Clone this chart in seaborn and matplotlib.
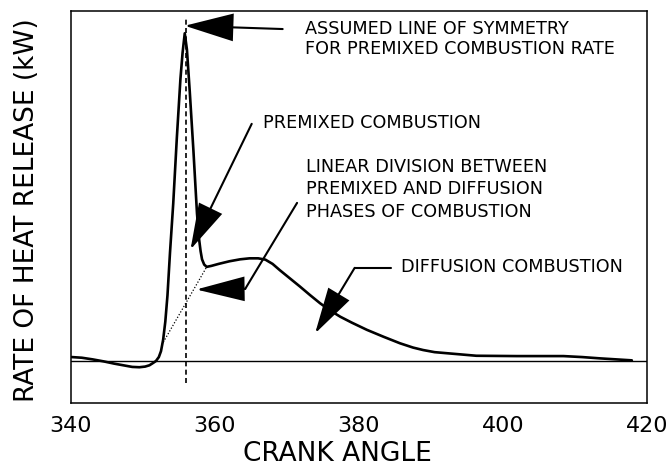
import matplotlib
matplotlib.use("Agg")
import matplotlib.pyplot as plt
from matplotlib.patches import FancyArrowPatch
import seaborn as sns
import pandas as pd

# Rate of heat release trace (arbitrary kW scale, no y ticks shown)
crank_angle = [340.1, 341.5, 343.0, 344.5, 346.0, 347.5, 348.5, 349.5, 350.3,
               350.9, 351.4, 351.8, 352.2, 352.5, 352.8, 353.1, 353.4, 353.75,
               354.2, 354.7, 355.2, 355.5, 355.8, 356.1, 356.5, 357.0, 357.5,
               357.8, 358.0, 358.2, 358.5, 358.85, 359.5, 360.5, 362.0, 363.5,
               364.8, 366.0, 367.0, 368.0, 369.0, 370.4, 371.8, 373.2, 374.6,
               376.0, 377.4, 379.0, 381.1, 383.4, 385.7, 387.5, 388.9, 390.5,
               392.6, 396.3, 401.9, 408.4, 411.0, 413.5, 417.9]
heat_release = [1.2, 1.0, 0.5, -0.1, -0.8, -1.4, -1.8, -1.9, -1.7,
                -1.3, -0.6, 0.0, 1.2, 3.0, 6.5, 12.0, 20.0, 33.0,
                48.0, 68.0, 86.0, 94.0, 99.9, 95.0, 82.0, 64.3, 45.0,
                37.0, 33.5, 31.0, 29.4, 28.7, 29.0, 29.6, 30.4, 31.0,
                31.3, 31.3, 30.9, 29.6, 27.7, 25.2, 22.7, 20.1, 17.6,
                15.4, 13.5, 11.7, 9.5, 7.4, 5.4, 4.1, 3.35, 2.7,
                2.3, 1.6, 1.5, 1.5, 1.2, 0.8, 0.2]

symmetry_angle = 356.0
symmetry_span = [-6.7, 105.0]
division_angle = [352.6, 358.85]
division_value = [4.9, 28.7]

x_ticks = [340, 350, 360, 370, 380, 390, 400, 410, 420]
x_tick_labels = ["340", "", "360", "", "380", "", "400", "", "420"]

df = pd.DataFrame({"crank_angle": crank_angle, "heat_release": heat_release})

sns.set_theme(style="white")
plt.rcParams["font.family"] = ["DejaVu Sans"]

fig = plt.figure(figsize=(6.71, 4.66), dpi=100)
ax = fig.add_axes([0.1058, 0.1352, 0.8584, 0.8412])

sns.lineplot(data=df, x="crank_angle", y="heat_release", ax=ax,
             color="black", lw=1.9, estimator=None, sort=False)

ax.axhline(0, color="black", lw=1.0)
ax.plot([symmetry_angle, symmetry_angle], symmetry_span, color="black",
        lw=1.2, ls=(0, (3, 2)))
ax.plot(division_angle, division_value, color="black", lw=0.9, ls=(0, (1, 1.5)))

ax.set_xlim(340, 420)
ax.set_ylim(-12.8, 106.7)
ax.set_xticks(x_ticks)
ax.set_xticklabels(x_tick_labels, fontsize=16)
ax.set_yticks([])
ax.tick_params(axis="x", direction="out", length=4.5, width=1.0,
               color="black", pad=5, labelcolor="black")
for s in ax.spines.values():
    s.set_visible(True)
    s.set_color("black")
    s.set_linewidth(1.1)

ax.set_xlabel("CRANK ANGLE", fontsize=19, color="black")
ax.xaxis.set_label_coords(0.462, -0.097)
ax.set_ylabel("RATE OF HEAT RELEASE (kW)", fontsize=19, color="black")
ax.yaxis.set_label_coords(-0.054, 0.492)

fs = 12.7
txt = dict(fontsize=fs, color="black", ha="left", va="center")
ax.text(372.5, 101.3, "ASSUMED LINE OF SYMMETRY", **txt)
ax.text(372.5, 95.2, "FOR PREMIXED COMBUSTION RATE", **txt)
ax.text(366.7, 72.6, "PREMIXED COMBUSTION", **txt)
ax.text(372.7, 59.2, "LINEAR DIVISION BETWEEN", **txt)
ax.text(372.7, 52.3, "PREMIXED AND DIFFUSION", **txt)
ax.text(372.7, 45.5, "PHASES OF COMBUSTION", **txt)
ax.text(385.9, 28.7, "DIFFUSION COMBUSTION", **txt)


def arrow(start, tip, head_len, head_half):
    style = f"-|>,head_length={head_len},head_width={head_half}"
    p = FancyArrowPatch(start, tip, arrowstyle=style, mutation_scale=1,
                        shrinkA=0, shrinkB=0, color="black", lw=1.5,
                        joinstyle="miter")
    ax.add_patch(p)


# symmetry arrow
arrow((369.4, 101.2), (355.8, 102.2), 31.5, 9.0)
# premixed combustion arrow
arrow((365.1, 72.3), (356.6, 34.0), 29.5, 8.3)
# linear division arrow with a bent shaft
ax.plot([371.4, 364.2], [48.2, 22.0], color="black", lw=1.5)
arrow((364.2, 22.0), (357.4, 21.8), 31.0, 7.9)
# diffusion combustion arrow with a bent shaft
ax.plot([384.4, 379.4], [28.4, 28.4], color="black", lw=1.5)
arrow((379.4, 28.4), (373.9, 8.4), 29.5, 7.9)

fig.savefig("out.png", dpi=100)
